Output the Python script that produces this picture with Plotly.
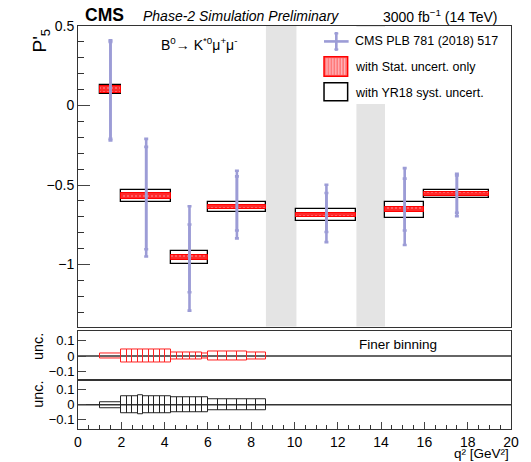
import plotly.graph_objects as go

# ---------------- data ----------------
bin_lo = [1.0, 2.0, 4.3, 6.0, 10.09, 14.18, 16.0]
bin_hi = [2.0, 4.3, 6.0, 8.68, 12.86, 16.0, 19.0]
p5_val = [0.10, -0.57, -0.955, -0.638, -0.688, -0.656, -0.556]
proj_stat = [0.024, 0.018, 0.015, 0.013, 0.013, 0.015, 0.013]
proj_syst = [0.027, 0.038, 0.040, 0.030, 0.040, 0.050, 0.027]
meas_tot_up = [0.31, 0.36, 0.321, 0.228, 0.19, 0.262, 0.126]
meas_tot_dn = [0.32, 0.38, 0.335, 0.198, 0.171, 0.221, 0.14]
meas_stat_up = [0.30, 0.31, 0.207, 0.192, 0.138, 0.196, 0.116]
meas_stat_dn = [0.31, 0.334, 0.22, 0.148, 0.108, 0.13, 0.119]
veto_lo = [8.68, 12.86]
veto_hi = [10.09, 14.18]

fine_edges = [1.0, 2.0, 2.26, 2.51, 2.77, 3.02, 3.28, 3.53, 3.79, 4.04, 4.3,
              4.58, 4.87, 5.15, 5.43, 5.72, 6.0,
              6.45, 6.89, 7.34, 7.79, 8.23, 8.68]
fine_stat = [0.015, 0.040, 0.040, 0.041, 0.045, 0.040, 0.040, 0.040, 0.042, 0.044,
             0.022, 0.022, 0.021, 0.021, 0.021, 0.018,
             0.028, 0.028, 0.027, 0.027, 0.026, 0.026]
fine_syst = [0.020, 0.057, 0.057, 0.058, 0.060, 0.057, 0.057, 0.057, 0.058, 0.058,
             0.049, 0.049, 0.049, 0.049, 0.049, 0.048,
             0.038, 0.038, 0.038, 0.038, 0.037, 0.037]

x_ticks = [0, 2, 4, 6, 8, 10, 12, 14, 16, 18, 20]

# ---------------- derived ----------------
ctr = [(a + b) / 2 for a, b in zip(bin_lo, bin_hi)]
wid = [b - a for a, b in zip(bin_lo, bin_hi)]
fctr = [(fine_edges[i] + fine_edges[i + 1]) / 2 for i in range(len(fine_edges) - 1)]
fwid = [fine_edges[i + 1] - fine_edges[i] for i in range(len(fine_edges) - 1)]

FONT = "Liberation Sans, Arial, Helvetica, sans-serif"
BLUE = "#9c9cd6"

W, H = 531, 462
ML, MR, MT, MB = 78, 13, 26, 31
PW = W - ML - MR
PH = H - MT - MB


def px(xp):
    return (xp - ML) / PW


def py(yp):
    return (H - MB - yp) / PH


fig = go.Figure()

# main panel: syst boxes
fig.add_trace(go.Bar(
    x=ctr, width=wid, base=[v - s for v, s in zip(p5_val, proj_syst)],
    y=[2 * s for s in proj_syst], marker=dict(color="white", line=dict(color="black", width=1.3)),
    xaxis="x", yaxis="y", showlegend=False, hoverinfo="skip"))
# main panel: stat boxes
fig.add_trace(go.Bar(
    x=ctr, width=wid, base=[v - s for v, s in zip(p5_val, proj_stat)],
    y=[2 * s for s in proj_stat],
    marker=dict(color="#ff2a2a", line=dict(color="#ff0000", width=1),
                pattern=dict(shape=".", fgcolor="#ffb0c0", size=4, solidity=0.2, fillmode="overlay")),
    xaxis="x", yaxis="y", showlegend=False, hoverinfo="skip"))
# measurement: total
fig.add_trace(go.Scatter(
    x=ctr, y=p5_val, mode="markers", marker=dict(size=2, color=BLUE),
    error_y=dict(type="data", symmetric=False, array=meas_tot_up, arrayminus=meas_tot_dn,
                 color=BLUE, thickness=2.6, width=2),
    xaxis="x", yaxis="y", showlegend=False, hoverinfo="skip"))
# measurement: stat
fig.add_trace(go.Scatter(
    x=ctr, y=p5_val, mode="markers", marker=dict(size=2, color=BLUE),
    error_y=dict(type="data", symmetric=False, array=meas_stat_up, arrayminus=meas_stat_dn,
                 color=BLUE, thickness=2.6, width=2),
    xaxis="x", yaxis="y", showlegend=False, hoverinfo="skip"))

# lower panels
fig.add_trace(go.Bar(
    x=fctr, width=fwid, base=[-s for s in fine_stat], y=[2 * s for s in fine_stat],
    marker=dict(color="rgba(0,0,0,0)", line=dict(color="#ff2020", width=1)),
    xaxis="x2", yaxis="y2", showlegend=False, hoverinfo="skip"))
fig.add_trace(go.Bar(
    x=fctr, width=fwid, base=[-s for s in fine_syst], y=[2 * s for s in fine_syst],
    marker=dict(color="rgba(0,0,0,0)", line=dict(color="#222222", width=1)),
    xaxis="x3", yaxis="y3", showlegend=False, hoverinfo="skip"))

shapes = []
# vetoed regions
for a, b in zip(veto_lo, veto_hi):
    shapes.append(dict(type="rect", xref="x", yref="y domain", x0=a, x1=b, y0=0, y1=1,
                       fillcolor="#e4e4e4", line=dict(width=0), layer="below"))
# zero lines in lower panels
for xr, yr in (("x2 domain", "y2"), ("x3 domain", "y3")):
    shapes.append(dict(type="line", xref=xr, yref=yr, x0=0, x1=1, y0=0, y1=0,
                       line=dict(color="#333333", width=1.3), layer="below"))
# legend background
shapes.append(dict(type="rect", xref="paper", yref="paper", x0=px(322), x1=px(516.5),
                   y0=py(104.5), y1=py(27), fillcolor="white", line=dict(width=0), layer="above"))
# legend symbols
shapes.append(dict(type="line", xref="paper", yref="paper", x0=px(328), x1=px(353),
                   y0=py(41.5), y1=py(41.5), line=dict(color=BLUE, width=2.6)))
shapes.append(dict(type="line", xref="paper", yref="paper", x0=px(340.5), x1=px(340.5),
                   y0=py(32), y1=py(51), line=dict(color=BLUE, width=2.6)))
for yy in (33.5, 49.5):
    shapes.append(dict(type="line", xref="paper", yref="paper", x0=px(338.5), x1=px(342.5),
                       y0=py(yy), y1=py(yy), line=dict(color=BLUE, width=2)))
shapes.append(dict(type="rect", xref="paper", yref="paper", x0=px(328), x1=px(352),
                   y0=py(76.5), y1=py(57), fillcolor="#ff7a7a", line=dict(color="#ff0000", width=1.5)))
for xx in range(331, 351, 3):
    shapes.append(dict(type="line", xref="paper", yref="paper", x0=px(xx), x1=px(xx),
                       y0=py(75), y1=py(58.5), line=dict(color="#ffc0c8", width=1)))
shapes.append(dict(type="rect", xref="paper", yref="paper", x0=px(328), x1=px(352),
                   y0=py(101), y1=py(83), fillcolor="white", line=dict(color="black", width=1.5)))

ann = []


def text(x, y, s, size, xanchor="left", yanchor="middle", angle=0, **kw):
    ann.append(dict(x=px(x), y=py(y), xref="paper", yref="paper", text=s, showarrow=False,
                    xanchor=xanchor, yanchor=yanchor, textangle=angle,
                    font=dict(family=FONT, size=size, color="black", **kw)))


text(83, 15, "<b>CMS</b>", 17.5)
text(142, 16, "<i>Phase-2 Simulation Preliminary</i>", 14)
text(506, 16, "3000 fb<sup>−1</sup> (14 TeV)", 14, xanchor="right")
text(160, 44, "B<sup>0</sup>→ K<sup>*0</sup>μ<sup>+</sup>μ<sup>-</sup>", 14)
text(357, 41.5, "CMS PLB 781 (2018) 517", 12.5)
text(357, 67, "with Stat. uncert. only", 12.5)
text(357, 93, "with YR18 syst. uncert.", 12.5)
text(40, 41, "P'<sub>5</sub>", 19, xanchor="center", angle=-90)
text(38, 348, "unc.", 14.5, xanchor="center", angle=-90)
text(38, 396, "unc.", 14.5, xanchor="center", angle=-90)
text(403, 346, "Finer binning", 13.5, xanchor="center")
text(518, 456, "q² [GeV²]", 13.5, xanchor="right")

common_x = dict(range=[0, 20], showgrid=False, zeroline=False, showline=True, mirror=True,
                linecolor="#333333", linewidth=1)
common_y = dict(showgrid=False, zeroline=False, showline=True, mirror=True,
                linecolor="#333333", linewidth=1,
                tickfont=dict(family=FONT, size=14, color="black"))

fig.update_layout(
    width=W, height=H, margin=dict(l=ML, r=MR, t=MT, b=MB),
    paper_bgcolor="white", plot_bgcolor="white", barmode="overlay", bargap=0,
    showlegend=False, shapes=shapes, annotations=ann,
    xaxis=dict(**common_x, anchor="y", showticklabels=False, ticks=""),
    yaxis=dict(**common_y, domain=[py(328), 1], range=[-1.39, 0.5], anchor="x",
               tickvals=[-1, -0.5, 0, 0.5], ticks="inside", ticklen=12,
               minor=dict(dtick=0.1, tick0=0, ticks="inside", ticklen=6, tickcolor="#333333")),
    xaxis2=dict(**common_x, anchor="y2", showticklabels=False, ticks="", matches="x"),
    yaxis2=dict(**common_y, domain=[py(382), py(333)], range=[-0.16, 0.162], anchor="x2",
                tickvals=[-0.1, 0, 0.1], ticks="inside", ticklen=8),
    xaxis3=dict(**common_x, anchor="y3", matches="x", tickvals=x_ticks, ticks="inside",
                ticklen=7, tickfont=dict(family=FONT, size=14, color="black"),
                minor=dict(dtick=0.5, tick0=0, ticks="inside", ticklen=4, tickcolor="#333333")),
    yaxis3=dict(**common_y, domain=[0, py(382)], range=[-0.16, 0.162], anchor="x3",
                tickvals=[-0.1, 0, 0.1], ticks="inside", ticklen=8),
)
fig.update_yaxes(tickfont=dict(family=FONT, size=13, color="black"), selector=dict(anchor="x2"))
fig.update_yaxes(tickfont=dict(family=FONT, size=13, color="black"), selector=dict(anchor="x3"))

fig.write_html("out.html", config={"displayModeBar": False},
               post_script="document.body.style.margin='0';document.body.style.overflow='hidden';")
